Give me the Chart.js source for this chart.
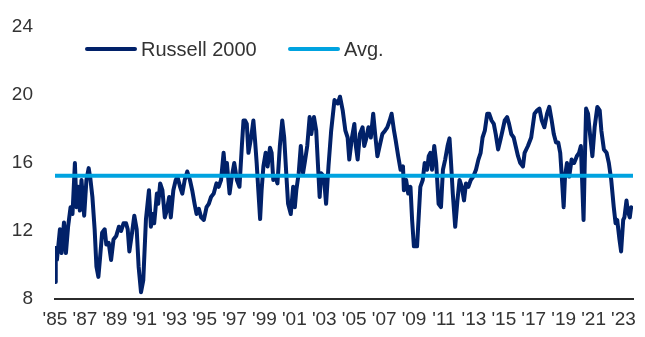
<!DOCTYPE html>
<html>
<head>
<meta charset="utf-8">
<script src="https://cdn.jsdelivr.net/npm/chart.js@4.4.1/dist/chart.umd.min.js"></script>
<style>
  body { margin: 0; background: #fff; }
  #wrap { position: relative; width: 645px; height: 337px; }
  .legend { position: absolute; top: 38px; font: 20px "Liberation Sans", Arial, sans-serif; color: #333; display: flex; align-items: center; height: 22px; }
  .legend i { display: inline-block; width: 52px; height: 4px; border-radius: 2px; margin-right: 4px; }
</style>
</head>
<body>
<div id="wrap">
  <canvas id="peChart"></canvas>
  <div class="legend" style="left:85px"><i style="background:#012169"></i>Russell 2000</div>
  <div class="legend" style="left:288px"><i style="background:#00a3e0"></i>Avg.</div>
</div>
<script>
// ============================
// DATA
// ============================
const tickYears = [1985,1987,1989,1991,1993,1995,1997,1999,2001,2003,2005,2007,2009,2011,2013,2015,2017,2019,2021,2023];
const avgPE = 15.25;

const dates = [
  1985.00,1985.05,1985.13,1985.33,1985.44,1985.60,1985.73,1985.88,1986.04,1986.17,
  1986.33,1986.44,1986.55,1986.66,1986.77,1986.95,1987.10,1987.25,1987.36,1987.50,
  1987.65,1987.77,1987.90,1988.00,1988.15,1988.32,1988.43,1988.59,1988.75,1988.91,
  1989.09,1989.27,1989.42,1989.58,1989.75,1989.86,1989.97,1990.15,1990.30,1990.46,
  1990.59,1990.75,1990.90,1991.08,1991.28,1991.41,1991.52,1991.63,1991.81,1991.90,
  1992.03,1992.18,1992.34,1992.47,1992.63,1992.74,1992.91,1993.07,1993.18,1993.36,
  1993.51,1993.67,1993.84,1994.02,1994.17,1994.33,1994.46,1994.62,1994.77,1994.95,
  1995.13,1995.28,1995.43,1995.61,1995.79,1995.94,1996.10,1996.27,1996.38,1996.49,
  1996.67,1996.82,1996.98,1997.16,1997.33,1997.49,1997.60,1997.71,1997.82,1997.93,
  1998.11,1998.26,1998.37,1998.48,1998.59,1998.71,1998.81,1998.93,1999.08,1999.21,
  1999.37,1999.48,1999.59,1999.74,1999.87,2000.03,2000.19,2000.32,2000.47,2000.58,
  2000.76,2000.92,2001.03,2001.13,2001.29,2001.43,2001.58,2001.69,2001.86,2002.02,
  2002.13,2002.31,2002.46,2002.57,2002.69,2002.79,2002.97,2003.12,2003.28,2003.46,
  2003.68,2003.90,2004.05,2004.23,2004.41,2004.56,2004.67,2004.85,2005.01,2005.11,
  2005.23,2005.38,2005.56,2005.67,2005.78,2005.95,2006.11,2006.27,2006.40,2006.55,
  2006.70,2006.88,2007.06,2007.21,2007.37,2007.50,2007.66,2007.77,2007.94,2008.10,
  2008.26,2008.32,2008.47,2008.61,2008.76,2008.87,2008.99,2009.20,2009.32,2009.42,
  2009.58,2009.71,2009.87,2009.98,2010.09,2010.20,2010.35,2010.48,2010.64,2010.80,
  2010.93,2011.08,2011.24,2011.37,2011.46,2011.59,2011.75,2011.90,2012.04,2012.19,
  2012.34,2012.47,2012.63,2012.79,2012.96,2013.14,2013.30,2013.45,2013.58,2013.73,
  2013.89,2014.02,2014.18,2014.33,2014.46,2014.62,2014.77,2014.91,2015.06,2015.22,
  2015.35,2015.50,2015.66,2015.79,2015.95,2016.10,2016.28,2016.39,2016.61,2016.83,
  2017.05,2017.23,2017.38,2017.54,2017.71,2017.89,2018.04,2018.20,2018.34,2018.49,
  2018.64,2018.77,2018.86,2019.00,2019.09,2019.22,2019.37,2019.53,2019.70,2019.88,
  2020.03,2020.15,2020.33,2020.41,2020.50,2020.63,2020.76,2020.92,2021.07,2021.25,
  2021.41,2021.52,2021.69,2021.87,2022.02,2022.18,2022.35,2022.47,2022.58,2022.73,
  2022.84,2022.98,2023.06,2023.20,2023.28,2023.42,2023.51,2023.64
];

const russellPE = [
  9.0,11.0,10.3,12.1,10.7,12.5,10.7,12.3,13.4,13.0,
  16.0,13.4,14.6,13.2,15.0,12.9,15.0,15.7,15.1,14.0,
  12.1,9.9,9.3,10.3,11.9,12.1,11.2,11.3,10.3,11.5,
  11.7,12.25,12.0,12.45,12.45,12.1,10.8,11.9,12.9,12.1,
  9.9,8.4,9.1,12.7,14.4,12.25,13.0,12.45,14.2,13.6,
  14.8,14.4,12.8,13.2,14.0,12.8,14.4,15.0,15.2,14.6,
  14.2,15.0,15.5,15.0,14.4,13.6,13.0,13.3,12.8,12.65,
  13.4,13.6,14.0,14.2,14.8,14.6,15.0,16.6,15.4,16.0,
  14.2,15.2,16.0,15.0,14.6,17.0,18.5,18.5,18.3,16.6,
  17.5,18.5,17.35,16.0,14.4,12.7,14.4,15.8,16.6,15.8,
  16.9,16.6,15.0,15.2,14.8,17.0,18.5,17.5,15.2,13.6,
  13.0,14.6,13.4,14.4,15.4,17.0,15.4,16.0,17.0,18.7,
  17.7,18.7,17.9,16.0,14.0,15.4,15.2,13.6,15.8,17.9,
  19.7,19.5,19.9,19.1,17.9,17.5,16.2,17.5,18.3,17.0,
  16.2,17.7,18.1,17.0,17.35,18.1,17.5,18.9,17.7,16.4,
  17.0,17.7,17.9,18.1,18.5,18.9,17.9,17.35,16.4,15.6,
  15.8,14.4,15.0,14.2,14.6,12.65,11.1,11.1,13.0,14.6,
  15.0,16.0,15.6,16.4,16.6,15.6,17.0,16.0,13.6,13.4,
  15.6,16.2,17.0,17.45,16.2,14.2,12.25,13.8,15.0,14.6,
  13.8,14.8,14.6,15.0,15.2,15.6,16.2,16.6,17.5,17.9,
  18.9,18.9,18.5,18.3,17.7,16.8,17.35,17.9,18.5,18.7,
  18.3,17.7,17.5,17.0,16.4,16.0,15.8,16.6,17.0,17.5,
  18.9,19.1,19.2,18.5,18.1,18.9,19.3,18.5,17.7,17.2,
  17.2,16.6,15.4,13.4,15.2,16.0,15.2,16.2,16.0,16.4,
  16.6,17.0,12.65,16.0,19.2,18.9,17.7,16.4,18.1,19.3,
  19.1,17.9,16.8,16.6,16.0,15.0,13.4,12.45,12.65,11.5,
  10.8,12.65,12.8,13.8,13.2,12.8,13.4,13.3
];

// ============================
// CHART
// ============================
const firstYear = dates[0];
const lastYear = dates[dates.length - 1];
const tickFont = { family: "'Liberation Sans', Arial, sans-serif", size: 19 };

new Chart(document.getElementById("peChart"), {
  type: "line",
  data: {
    datasets: [
      {
        label: "Avg.",
        data: [{ x: firstYear, y: avgPE }, { x: lastYear, y: avgPE }],
        borderColor: "#00a3e0",
        borderWidth: 4,
        pointRadius: 0
      },
      {
        label: "Russell 2000",
        data: dates.map((d, i) => ({ x: d, y: russellPE[i] })),
        borderColor: "#012169",
        borderWidth: 4,
        pointRadius: 0,
        tension: 0,
        borderJoinStyle: "round"
      }
    ]
  },
  options: {
    responsive: true,
    maintainAspectRatio: false,
    animation: false,
    layout: { padding: { top: 27, right: 7, left: 0, bottom: 0 } },
    plugins: { legend: { display: false }, tooltip: { enabled: false } },
    scales: {
      x: {
        type: "linear",
        min: firstYear,
        max: lastYear,
        afterBuildTicks: s => { s.ticks = tickYears.map(v => ({ value: v })); },
        afterFit: s => { s.height = 38; },
        grid: { display: false, drawTicks: false },
        border: { display: true, color: "#2b2b2b", width: 2 },
        ticks: {
          font: tickFont, color: "#333", padding: 9, maxRotation: 0, autoSkip: false,
          callback: v => "'" + String(v).slice(2)
        }
      },
      y: {
        min: 8,
        max: 24,
        afterFit: s => { s.width = 55; s.paddingTop = 0; s.paddingBottom = 0; },
        grid: { display: false, drawTicks: false },
        border: { display: false },
        ticks: { stepSize: 4, font: tickFont, color: "#333", padding: 22 }
      }
    }
  }
});
</script>
</body>
</html>
